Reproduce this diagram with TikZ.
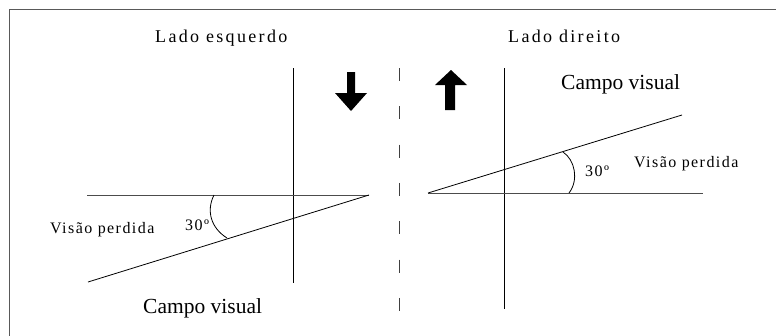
\documentclass[tikz,border=0pt]{standalone}
\usepackage{fontspec}
\setmainfont{Liberation Serif}
\newfontfamily\spacedtitle[LetterSpace=13]{Liberation Serif}
\newfontfamily\spacedsmall[LetterSpace=9]{Liberation Serif}
\begin{document}
\begin{tikzpicture}[x=1pt,y=-1pt,
  txt/.style={inner sep=0pt,anchor=base west},
  titletxt/.style={txt,font=\spacedtitle\fontsize{18}{21}\selectfont},
  smalltxt/.style={txt,font=\spacedsmall\fontsize{16}{19}\selectfont},
  fieldtxt/.style={txt,font=\fontsize{21.5}{24}\selectfont},
  ln/.style={line width=0.8pt,black},
  hln/.style={line width=0.9pt,black!70},
  blockarrow/.style={fill=black,draw=none}]
\useasboundingbox (0,0) rectangle (776,335);
% frame
\draw[line width=0.9pt,black!65] (9.5,340) -- (9.5,9) -- (780,9);
% titles
\node[titletxt] (le) at (155,42.5) {Lado esquerdo};
\node[titletxt] (ld) at (508,42.5) {Lado direito};
% left side
\coordinate (lv1) at (293,68);
\coordinate (lv2) at (293,283);
\coordinate (lh1) at (87,195);
\coordinate (lh2) at (369,195);
\coordinate (ls) at (88,282);
\draw[ln] (lv1) -- (lv2);
\draw[hln] (lh1) -- (lh2);
\draw[ln] (lh2) -- (ls);
\draw[ln] (214,195) .. controls (206,211) and (211,228) .. (227,238);
\node[smalltxt] (lvp) at (50,233) {Visão perdida};
\node[smalltxt] (l30) at (185,230) {30º};
\node[fieldtxt] (lcv) at (143,313) {Campo visual};
% arrows
\fill[blockarrow] (347,72) -- (355,72) -- (355,93) -- (367,93) -- (351,111) -- (335,93) -- (347,93) -- cycle;
\fill[blockarrow] (445,110) -- (455,110) -- (455,85) -- (467,85) -- (451,70) -- (435,85) -- (445,85) -- cycle;
% dashed divider
\coordinate (d1) at (399,68);
\coordinate (d2) at (399,312);
\draw[line width=0.9pt,black!75,dash pattern=on 13pt off 25.3pt] (d1) -- (d2);
% right side
\coordinate (rv1) at (504,68);
\coordinate (rv2) at (504,309);
\coordinate (rh1) at (428,193);
\coordinate (rh2) at (703,193);
\coordinate (rs) at (682,115);
\draw[ln] (rv1) -- (rv2);
\draw[hln] (rh1) -- (rh2);
\draw[ln] (rh1) -- (rs);
\draw[ln] (563,152) .. controls (575,160) and (579,180) .. (569,193);
\node[fieldtxt] (rcv) at (561,89) {Campo visual};
\node[smalltxt] (rvp) at (634,167) {Visão perdida};
\node[smalltxt] (r30) at (585,176) {30º};
\end{tikzpicture}
\end{document}
